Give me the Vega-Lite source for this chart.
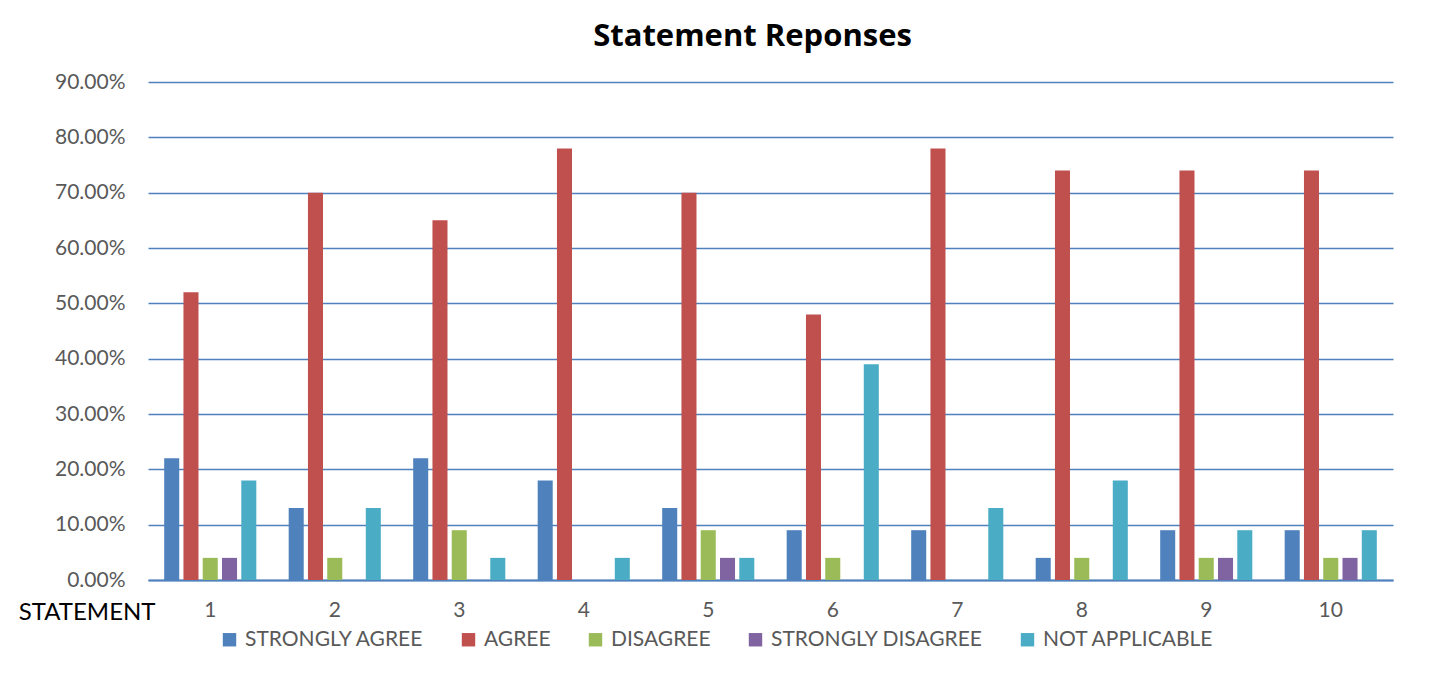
{
  "$schema": "https://vega.github.io/schema/vega-lite/v6.json",
  "width": 1245,
  "height": 498,
  "autosize": {"type": "none"},
  "padding": {"left": 148, "top": 82, "right": 38, "bottom": 97},
  "background": "white",
  "config": {
    "font": "Lato",
    "view": {"stroke": null}
  },
  "title": {
    "text": "Statement Reponses",
    "font": "Open Sans",
    "fontSize": 31,
    "fontWeight": "bold",
    "color": "#000000",
    "anchor": "middle",
    "frame": "group",
    "dx": -18,
    "offset": 18
  },
  "data": {
    "values": [
      {"statement": "1", "response": "STRONGLY AGREE", "value": 0.22},
      {"statement": "1", "response": "AGREE", "value": 0.52},
      {"statement": "1", "response": "DISAGREE", "value": 0.04},
      {"statement": "1", "response": "STRONGLY DISAGREE", "value": 0.04},
      {"statement": "1", "response": "NOT APPLICABLE", "value": 0.18},
      {"statement": "2", "response": "STRONGLY AGREE", "value": 0.13},
      {"statement": "2", "response": "AGREE", "value": 0.70},
      {"statement": "2", "response": "DISAGREE", "value": 0.04},
      {"statement": "2", "response": "STRONGLY DISAGREE", "value": 0},
      {"statement": "2", "response": "NOT APPLICABLE", "value": 0.13},
      {"statement": "3", "response": "STRONGLY AGREE", "value": 0.22},
      {"statement": "3", "response": "AGREE", "value": 0.65},
      {"statement": "3", "response": "DISAGREE", "value": 0.09},
      {"statement": "3", "response": "STRONGLY DISAGREE", "value": 0},
      {"statement": "3", "response": "NOT APPLICABLE", "value": 0.04},
      {"statement": "4", "response": "STRONGLY AGREE", "value": 0.18},
      {"statement": "4", "response": "AGREE", "value": 0.78},
      {"statement": "4", "response": "DISAGREE", "value": 0},
      {"statement": "4", "response": "STRONGLY DISAGREE", "value": 0},
      {"statement": "4", "response": "NOT APPLICABLE", "value": 0.04},
      {"statement": "5", "response": "STRONGLY AGREE", "value": 0.13},
      {"statement": "5", "response": "AGREE", "value": 0.70},
      {"statement": "5", "response": "DISAGREE", "value": 0.09},
      {"statement": "5", "response": "STRONGLY DISAGREE", "value": 0.04},
      {"statement": "5", "response": "NOT APPLICABLE", "value": 0.04},
      {"statement": "6", "response": "STRONGLY AGREE", "value": 0.09},
      {"statement": "6", "response": "AGREE", "value": 0.48},
      {"statement": "6", "response": "DISAGREE", "value": 0.04},
      {"statement": "6", "response": "STRONGLY DISAGREE", "value": 0},
      {"statement": "6", "response": "NOT APPLICABLE", "value": 0.39},
      {"statement": "7", "response": "STRONGLY AGREE", "value": 0.09},
      {"statement": "7", "response": "AGREE", "value": 0.78},
      {"statement": "7", "response": "DISAGREE", "value": 0},
      {"statement": "7", "response": "STRONGLY DISAGREE", "value": 0},
      {"statement": "7", "response": "NOT APPLICABLE", "value": 0.13},
      {"statement": "8", "response": "STRONGLY AGREE", "value": 0.04},
      {"statement": "8", "response": "AGREE", "value": 0.74},
      {"statement": "8", "response": "DISAGREE", "value": 0.04},
      {"statement": "8", "response": "STRONGLY DISAGREE", "value": 0},
      {"statement": "8", "response": "NOT APPLICABLE", "value": 0.18},
      {"statement": "9", "response": "STRONGLY AGREE", "value": 0.09},
      {"statement": "9", "response": "AGREE", "value": 0.74},
      {"statement": "9", "response": "DISAGREE", "value": 0.04},
      {"statement": "9", "response": "STRONGLY DISAGREE", "value": 0.04},
      {"statement": "9", "response": "NOT APPLICABLE", "value": 0.09},
      {"statement": "10", "response": "STRONGLY AGREE", "value": 0.09},
      {"statement": "10", "response": "AGREE", "value": 0.74},
      {"statement": "10", "response": "DISAGREE", "value": 0.04},
      {"statement": "10", "response": "STRONGLY DISAGREE", "value": 0.04},
      {"statement": "10", "response": "NOT APPLICABLE", "value": 0.09}
    ]
  },
  "mark": {"type": "bar"},
  "encoding": {
    "x": {
      "field": "statement",
      "type": "nominal",
      "sort": ["1","2","3","4","5","6","7","8","9","10"],
      "scale": {"paddingInner": 0.26, "paddingOuter": 0.13},
      "axis": {
        "title": "STATEMENT",
        "titleFont": "Lato",
        "titleFontSize": 24,
        "titleFontWeight": "normal",
        "titleColor": "#000000",
        "titleAlign": "right",
        "titleBaseline": "middle",
        "titleAngle": 0,
        "titleX": 7,
        "titleY": 32,
        "labelAngle": 0,
        "labelFont": "Lato",
        "labelFontSize": 21,
        "labelColor": "#595959",
        "labelPadding": 19,
        "ticks": false,
        "domainColor": "#4F81BD",
        "domainWidth": 2,
        "grid": false
      }
    },
    "xOffset": {
      "field": "response",
      "type": "nominal",
      "sort": ["STRONGLY AGREE","AGREE","DISAGREE","STRONGLY DISAGREE","NOT APPLICABLE"],
      "scale": {"paddingInner": 0.22, "paddingOuter": 0}
    },
    "y": {
      "field": "value",
      "type": "quantitative",
      "scale": {"domain": [0, 0.9], "nice": false},
      "axis": {
        "title": null,
        "format": ".2%",
        "values": [0,0.1,0.2,0.3,0.4,0.5,0.6,0.7,0.8,0.9],
        "labelFont": "Lato",
        "labelFontSize": 21,
        "labelColor": "#595959",
        "labelPadding": 23,
        "ticks": false,
        "domain": false,
        "grid": true,
        "gridColor": "#4F81BD",
        "gridWidth": 1.5
      }
    },
    "color": {
      "field": "response",
      "type": "nominal",
      "sort": ["STRONGLY AGREE","AGREE","DISAGREE","STRONGLY DISAGREE","NOT APPLICABLE"],
      "scale": {
        "domain": ["STRONGLY AGREE","AGREE","DISAGREE","STRONGLY DISAGREE","NOT APPLICABLE"],
        "range": ["#4F81BD","#C0504D","#9BBB59","#8064A2","#4BACC6"]
      },
      "legend": {
        "title": null,
        "orient": "none",
        "direction": "horizontal",
        "legendX": 71,
        "legendY": 547,
        "symbolType": "square",
        "symbolSize": 180,
        "symbolStrokeWidth": 0,
        "labelFont": "Lato",
        "labelFontSize": 21,
        "labelLimit": 0,
        "labelColor": "#595959",
        "labelOffset": 5,
        "columnPadding": 34
      }
    }
  }
}
